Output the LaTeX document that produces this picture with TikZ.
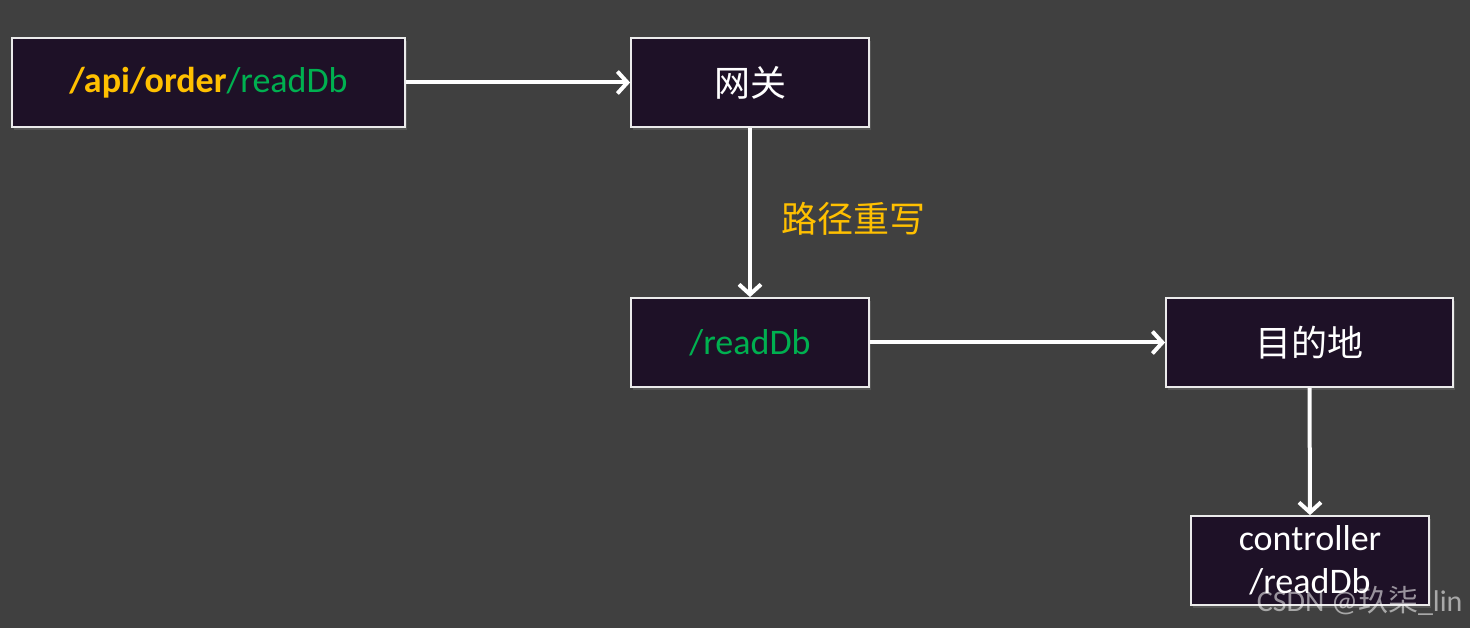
\documentclass[tikz,border=0pt]{standalone}
\usepackage{fontspec}
\setmainfont{Carlito}
\newfontfamily\cjk{Noto Sans CJK SC}
\usetikzlibrary{arrows.meta,shadows}
\definecolor{bgc}{HTML}{404040}
\definecolor{boxc}{HTML}{1E1127}
\definecolor{orangec}{HTML}{FFC000}
\definecolor{greenc}{HTML}{00B050}
\tikzset{
  box/.style={draw=white!92!black, line width=1.8pt, fill=boxc, minimum width=238pt, minimum height=89pt, inner sep=0pt, align=center, font=\fontsize{36}{43}\selectfont, text=white, drop shadow={shadow xshift=2pt, shadow yshift=-3pt, opacity=0.35}},
  conn/.style={draw=white, line width=4pt, -{Straight Barb[length=10pt,width=22pt,line width=4pt]}},
}
\begin{document}
\begin{tikzpicture}[x=1pt,y=-1pt]
\fill[bgc] (0,0) rectangle (1470,628);
\useasboundingbox (0,0) rectangle (1470,628);
\node[box, minimum width=393pt] (api) at (208.5,82.5) {\raisebox{-3pt}{\textcolor{orangec}{\bfseries /api/order}\textcolor{greenc}{/readDb}}};
\node[box] (gw) at (750,82.5) {\cjk 网关};
\node[box] (rd) at (750,342.5) {\raisebox{-2pt}{\textcolor{greenc}{/readDb}}};
\node[box, minimum width=287pt] (dest) at (1309.5,342.5) {\cjk 目的地};
\node[box] (ctl) at (1310,560.5) {controller\\/readDb};
\draw[conn] (api.east) -- (gw.west);
\draw[conn] (gw.south) -- node[pos=0.54, right=26pt, font=\cjk\fontsize{36}{43}\selectfont, text=orangec] (lbl) {路径重写} (rd.north);
\draw[conn] (rd.east) -- (dest.west);
\draw[conn] (dest.south) -- (ctl.north);
\node[anchor=east, text=white, opacity=0.55, font=\fontsize{30}{34}\selectfont] (wm) at (1466,601) {CSDN @{\cjk 玖柒}\_lin};
\end{tikzpicture}
\end{document}
